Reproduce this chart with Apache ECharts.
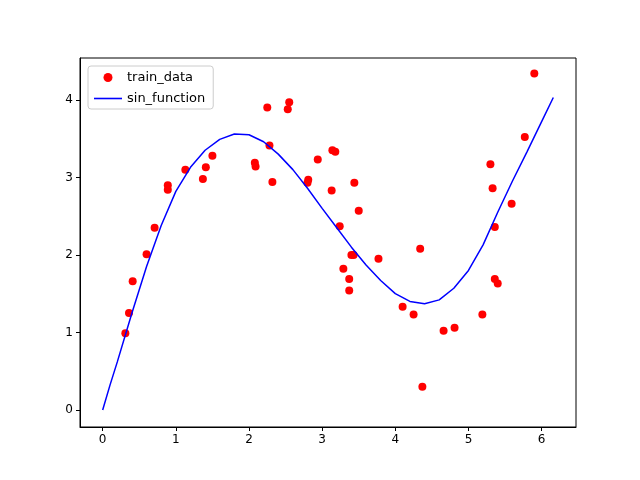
<!DOCTYPE html>
<html>
<head>
<meta charset="utf-8">
<script src="https://cdn.jsdelivr.net/npm/echarts@6/dist/echarts.min.js"></script>
<style>html,body{margin:0;padding:0;background:#fff}#main{width:640px;height:480px}</style>
</head>
<body>
<div id="main"></div>
<script>
// scatter points
var trainX = [0.31,0.36,0.41,0.60,0.71,0.89,0.89,1.13,1.37,1.41,1.50,2.08,2.09,2.25,2.28,2.32,2.53,2.55,2.80,2.81,2.94,3.14,3.18,3.13,3.24,3.29,3.37,3.37,3.40,3.43,3.44,3.50,3.77,4.10,4.25,4.34,4.37,4.66,4.81,5.19,5.30,5.33,5.36,5.36,5.40,5.59,5.77,5.90];
var trainY = [0.99,1.25,1.66,2.01,2.35,2.90,2.84,3.10,2.98,3.13,3.28,3.19,3.14,3.90,3.41,2.94,3.88,3.97,2.93,2.97,3.23,3.35,3.33,2.83,2.37,1.82,1.69,1.54,2.00,2.00,2.93,2.57,1.95,1.33,1.23,2.08,0.30,1.02,1.06,1.23,3.17,2.86,2.36,1.69,1.63,2.66,3.52,4.34];

// fitted curve
var curveX = [0,0.1,0.2,0.4,0.6,0.8,1.0,1.2,1.4,1.6,1.8,2.0,2.2,2.4,2.6,2.8,3.0,3.2,3.4,3.6,3.8,4.0,4.2,4.4,4.6,4.8,5.0,5.2,5.4,5.6,5.8,6.0,6.16];
var curveY = [0,0.32,0.62,1.25,1.85,2.38,2.82,3.13,3.35,3.49,3.56,3.55,3.46,3.3,3.1,2.86,2.6,2.35,2.1,1.87,1.67,1.5,1.4,1.37,1.42,1.57,1.8,2.13,2.55,2.95,3.33,3.72,4.03];

var xTicks = [0,1,2,3,4,5,6];
var yTicks = [0,1,2,3,4];

var myChart = echarts.init(document.getElementById('main'));
var font = 'DejaVu Sans';

var option = {
    animation: false,
    textStyle: { fontFamily: font },
    grid: { left: 80, right: 64, top: 58, bottom: 53, show: true, borderColor: '#000', borderWidth: 1 },
    legend: {
        orient: 'vertical', left: 88, top: 66,
        data: [
            { name: 'train_data', icon: 'circle' },
            { name: 'sin_function', icon: 'path://M0,0 L28,0 L28,1.6 L0,1.6 Z' }
        ],
        backgroundColor: '#fff', borderColor: '#ccc', borderWidth: 1, borderRadius: 3,
        padding: [5, 8, 4, 6], itemGap: 8, itemWidth: 28, itemHeight: 9,
        textStyle: { fontFamily: font, fontSize: 13, color: '#000' }
    },
    xAxis: {
        type: 'value', min: -0.31, max: 6.47,
        splitLine: { show: false },
        axisLine: { onZero: false, lineStyle: { color: '#000' } },
        axisTick: { show: true, length: 4, customValues: xTicks, lineStyle: { color: '#000' } },
        axisLabel: { customValues: xTicks, color: '#000', fontSize: 12, margin: 7 }
    },
    yAxis: {
        type: 'value', min: -0.22, max: 4.54,
        splitLine: { show: false },
        axisLine: { show: true, onZero: false, lineStyle: { color: '#000' } },
        axisTick: { show: true, length: 4, customValues: yTicks, lineStyle: { color: '#000' } },
        axisLabel: { customValues: yTicks, color: '#000', fontSize: 12, margin: 7 }
    },
    series: [
        {
            name: 'train_data', type: 'scatter', symbolSize: 8,
            itemStyle: { color: '#ff0000', opacity: 1 },
            emphasis: { disabled: true },
            data: trainX.map(function (x, i) { return [x, trainY[i]]; })
        },
        {
            name: 'sin_function', type: 'line', showSymbol: false, symbol: 'none',
            lineStyle: { color: '#0000ff', width: 1.5 }, itemStyle: { color: '#0000ff' },
            data: curveX.map(function (x, i) { return [x, curveY[i]]; })
        }
    ]
};

option && myChart.setOption(option);
</script>
</body>
</html>
